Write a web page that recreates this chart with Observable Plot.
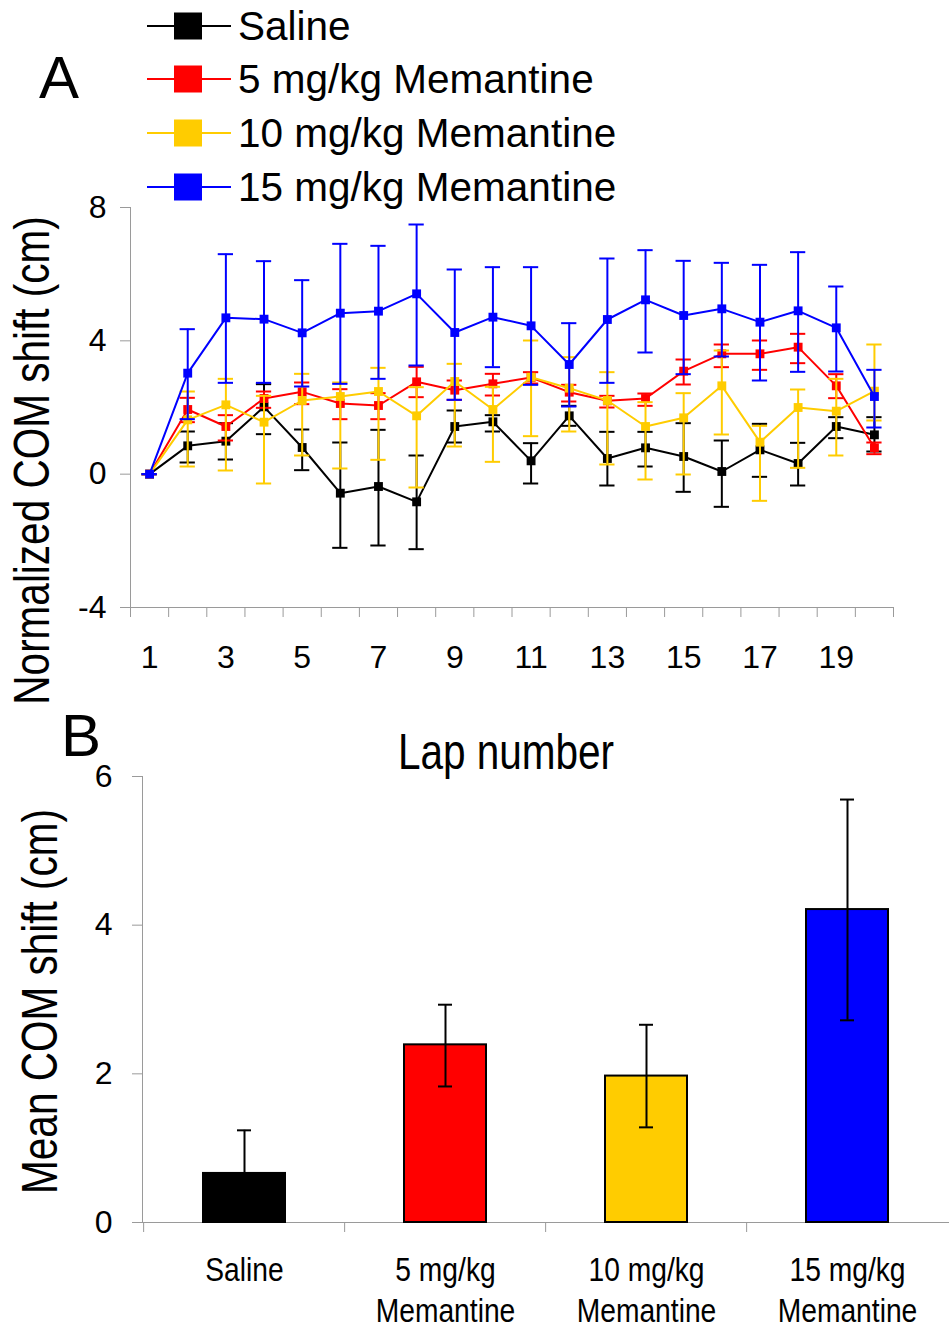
<!DOCTYPE html>
<html>
<head>
<meta charset="utf-8">
<script src="https://cdn.jsdelivr.net/npm/d3@7"></script>
<script src="https://cdn.jsdelivr.net/npm/@observablehq/plot@0.6"></script>
<style>
  body { margin: 0; background: #fff; }
  #wrap { position: relative; width: 949px; height: 1328px; overflow: hidden; background: #fff;
          font-family: "Liberation Sans", Arial, sans-serif; color: #000; }
  .panel { position: absolute; font-size: 60px; line-height: 45px; height: 45px; }
  .legrow { position: absolute; left: 147px; height: 54px; display: flex; align-items: center; }
  .legrow span { font-size: 40.5px; margin-left: 7px; line-height: 1; white-space: nowrap; }
</style>
</head>
<body>
<div id="wrap"></div>
<script>
// ---------- data ----------
const laps = [1, 2, 3, 4, 5, 6, 7, 8, 9, 10, 11, 12, 13, 14, 15, 16, 17, 18, 19, 20];
const lapTickLabels = [1, 3, 5, 7, 9, 11, 13, 15, 17, 19];
const yTicksA = [-4, 0, 4, 8];
const yTicksB = [0, 2, 4, 6];

const seriesNames = ["Saline", "5 mg/kg Memantine", "10 mg/kg Memantine", "15 mg/kg Memantine"];
const seriesColors = ["#000000", "#ff0000", "#ffcc00", "#0000ff"];

const salineMean = [0, 0.85, 0.99, 2.02, 0.80, -0.57, -0.37, -0.83, 1.43, 1.57, 0.40, 1.75, 0.47, 0.79, 0.53, 0.08, 0.73, 0.32, 1.43, 1.18];
const salineHi   = [0, 1.28, 1.53, 2.70, 1.34, 0.95, 1.33, 0.56, 1.91, 1.77, 0.93, 2.05, 1.27, 1.27, 1.53, 1.01, 1.51, 0.94, 1.71, 1.71];
const salineLo   = [0, 0.35, 0.44, 1.20, 0.12, -2.21, -2.14, -2.25, 0.95, 1.28, -0.28, 1.45, -0.34, 0.23, -0.53, -0.98, -0.08, -0.34, 1.08, 0.68];

const mem5Mean = [0, 1.94, 1.43, 2.27, 2.47, 2.12, 2.06, 2.77, 2.52, 2.71, 2.90, 2.46, 2.20, 2.27, 3.09, 3.61, 3.61, 3.81, 2.65, 0.79];
const mem5Hi   = [0, 2.29, 1.77, 2.48, 2.75, 2.55, 2.43, 3.22, 2.81, 3.01, 3.06, 2.68, 2.35, 2.42, 3.44, 3.89, 4.01, 4.21, 3.00, 0.95];
const mem5Lo   = [0, 1.56, 1.01, 1.99, 2.10, 1.65, 1.65, 2.31, 2.23, 2.36, 2.72, 2.18, 2.00, 2.05, 2.69, 3.21, 3.13, 3.33, 2.28, 0.60];

const mem10Mean = [0, 1.63, 2.08, 1.56, 2.21, 2.33, 2.48, 1.75, 2.78, 1.94, 2.91, 2.58, 2.21, 1.43, 1.69, 2.65, 0.96, 2.00, 1.89, 2.49];
const mem10Hi   = [0, 2.48, 2.86, 2.35, 3.01, 2.75, 3.19, 2.61, 3.31, 2.62, 4.01, 3.51, 3.06, 2.16, 2.43, 3.71, 1.45, 2.54, 2.86, 3.89];
const mem10Lo   = [0, 0.23, 0.11, -0.28, 0.56, 0.17, 0.43, -0.40, 0.83, 0.37, 1.14, 1.28, 0.29, -0.16, -0.01, 1.19, -0.80, 0.19, 0.56, 1.61];

const mem15Mean = [0, 3.03, 4.69, 4.65, 4.24, 4.83, 4.89, 5.41, 4.25, 4.71, 4.45, 3.29, 4.64, 5.23, 4.76, 4.96, 4.56, 4.90, 4.39, 2.33];
const mem15Hi   = [0, 4.35, 6.60, 6.39, 5.82, 6.91, 6.85, 7.49, 6.14, 6.21, 6.21, 4.53, 6.47, 6.72, 6.40, 6.34, 6.28, 6.66, 5.63, 3.13];
const mem15Lo   = [0, 1.65, 2.74, 2.74, 2.63, 2.71, 2.86, 3.26, 2.23, 3.21, 2.68, 2.03, 2.74, 3.65, 3.00, 3.53, 2.81, 3.07, 3.08, 1.40];

const groupsB = ["Saline", "5 mg/kg\nMemantine", "10 mg/kg\nMemantine", "15 mg/kg\nMemantine"];
const barMeans = [0.66, 2.39, 1.97, 4.21];
const barHi    = [1.24, 2.93, 2.66, 5.69];
const barLo    = [0.08, 1.83, 1.28, 2.72];

const yLabelA = "Normalized COM shift (cm)";
const xLabelA = "Lap number";
const yLabelB = "Mean COM shift (cm)";

// ---------- build ----------
const REG = "'Liberation Sans', Arial, sans-serif";
const wrap = document.getElementById("wrap");

// narrow (condensed) look of some labels, done with textLength on the real text
function condense(svg, strings, factor) {
  svg.querySelectorAll("text").forEach(t => {
    const tspans = t.querySelectorAll("tspan");
    const parts = tspans.length ? Array.from(tspans) : [t];
    parts.forEach(p => {
      if (strings.includes(p.textContent)) {
        const w = p.getComputedTextLength();
        p.setAttribute("textLength", (w * factor).toFixed(1));
        p.setAttribute("lengthAdjust", "spacingAndGlyphs");
      }
    });
  });
}

const meansAll = [salineMean, mem5Mean, mem10Mean, mem15Mean];
const hisAll = [salineHi, mem5Hi, mem10Hi, mem15Hi];
const losAll = [salineLo, mem5Lo, mem10Lo, mem15Lo];

const rowsA = [];
seriesNames.forEach((s, si) => laps.forEach((lap, i) =>
  rowsA.push({series: s, lap, mean: meansAll[si][i], hi: hisAll[si][i], lo: losAll[si][i]})));

const lapBounds = laps.map(l => l - 0.5).concat([laps[laps.length - 1] + 0.5]);
const capHalf = 0.2;

const seriesMarks = [];
seriesNames.forEach((name, si) => {
  const rows = rowsA.filter(d => d.series === name);
  const c = seriesColors[si];
  seriesMarks.push(
    Plot.ruleX(rows, {x: "lap", y1: "lo", y2: "hi", stroke: c, strokeWidth: 2}),
    Plot.ruleY(rows, {y: "hi", x1: d => d.lap - capHalf, x2: d => d.lap + capHalf, stroke: c, strokeWidth: 2}),
    Plot.ruleY(rows, {y: "lo", x1: d => d.lap - capHalf, x2: d => d.lap + capHalf, stroke: c, strokeWidth: 2}),
    Plot.line(rows, {x: "lap", y: "mean", stroke: c, strokeWidth: 2}),
    Plot.dot(rows, {x: "lap", y: "mean", symbol: "square", r: 5, fill: c, stroke: "none"})
  );
});

const plotA = Plot.plot({
  width: 949, height: 590,
  marginLeft: 130, marginRight: 56, marginTop: 27, marginBottom: 163,
  style: {fontFamily: REG, background: "transparent", overflow: "visible", color: "black"},
  x: {domain: [0.5, 20.5], axis: null},
  y: {domain: [-4, 8], axis: null},
  marks: [
    Plot.frame({anchor: "left", stroke: "#9a9a9a"}),
    Plot.frame({anchor: "bottom", stroke: "#9a9a9a"}),
    Plot.axisY({ticks: yTicksA, tickSize: 10, tickPadding: 14, fontSize: 32, tickFormat: d => String(d), stroke: "#9a9a9a", fill: "black", label: null}),
    Plot.axisX({ticks: lapBounds, tickSize: 10, tickFormat: () => "", stroke: "#9a9a9a", label: null}),
    Plot.axisX({ticks: lapTickLabels, tickSize: 0, tickPadding: 38, fontSize: 32, tickFormat: d => String(d), fill: "black", label: null}),
    ...seriesMarks,
    Plot.text([yLabelA], {frameAnchor: "left", textAnchor: "middle", lineAnchor: "middle", rotate: -90, dx: -98, dy: 53, fontSize: 50, fill: "black"}),
    Plot.text([xLabelA], {frameAnchor: "bottom", textAnchor: "middle", lineAnchor: "middle", dx: -6, dy: 145, fontSize: 50, fill: "black"})
  ]
});
plotA.style.position = "absolute";
plotA.style.left = "0px";
plotA.style.top = "180px";
wrap.appendChild(plotA);
condense(plotA, [yLabelA, xLabelA], 0.81);

const barRows = groupsB.map((g, i) => ({group: g, mean: barMeans[i], hi: barHi[i], lo: barLo[i]}));
const stepB = (949 - 142) / groupsB.length;

const plotB = Plot.plot({
  width: 949, height: 558,
  marginLeft: 142, marginRight: 0, marginTop: 6, marginBottom: 106,
  style: {fontFamily: REG, background: "transparent", overflow: "visible", color: "black"},
  x: {domain: groupsB, paddingInner: 0.594, paddingOuter: 0.297, axis: null},
  y: {domain: [0, 6], axis: null},
  color: {domain: groupsB, range: seriesColors},
  marks: [
    Plot.frame({anchor: "left", stroke: "#9a9a9a"}),
    Plot.ruleY([0], {stroke: "#9a9a9a"}),
    Plot.axisY({ticks: yTicksB, tickSize: 10, tickPadding: 20, fontSize: 32, tickFormat: d => String(d), stroke: "#9a9a9a", fill: "black", label: null}),
    Plot.axisX({tickSize: 10, dx: -stepB / 2, tickFormat: () => "", stroke: "#9a9a9a", label: null}),
    Plot.axisX({tickSize: 0, tickPadding: 29, fontSize: 34, lineHeight: 1.22, fill: "black", label: null}),
    Plot.barY(barRows, {x: "group", y: "mean", fill: "group", stroke: "black", strokeWidth: 2}),
    Plot.ruleX(barRows, {x: "group", y1: "lo", y2: "hi", stroke: "black", strokeWidth: 2}),
    Plot.tickY(barRows, {x: "group", y: "hi", stroke: "black", strokeWidth: 2, insetLeft: 34, insetRight: 34}),
    Plot.tickY(barRows, {x: "group", y: "lo", stroke: "black", strokeWidth: 2, insetLeft: 34, insetRight: 34}),
    Plot.text([yLabelB], {frameAnchor: "left", textAnchor: "middle", lineAnchor: "middle", rotate: -90, dx: -102, dy: 2, fontSize: 50, fill: "black"})
  ]
});
plotB.style.position = "absolute";
plotB.style.left = "0px";
plotB.style.top = "770px";
wrap.appendChild(plotB);
const catParts = [];
groupsB.forEach(g => g.split("\n").forEach(p => catParts.push(p)));
condense(plotB, [yLabelB], 0.81);
condense(plotB, catParts, 0.83);

// panel letters
const letterA = document.createElement("div");
letterA.className = "panel";
letterA.textContent = "A";
letterA.style.left = "39px"; letterA.style.top = "55px";
wrap.appendChild(letterA);
const letterB = document.createElement("div");
letterB.className = "panel";
letterB.textContent = "B";
letterB.style.left = "61px"; letterB.style.top = "713px";
wrap.appendChild(letterB);

// legend
const legendCenters = [26, 79, 133, 187];
seriesNames.forEach((name, i) => {
  const row = document.createElement("div");
  row.className = "legrow";
  row.style.top = (legendCenters[i] - 27) + "px";
  const ns = "http://www.w3.org/2000/svg";
  const svg = document.createElementNS(ns, "svg");
  svg.setAttribute("width", 84); svg.setAttribute("height", 54);
  const ln = document.createElementNS(ns, "line");
  ln.setAttribute("x1", 0); ln.setAttribute("x2", 84); ln.setAttribute("y1", 27); ln.setAttribute("y2", 27);
  ln.setAttribute("stroke", seriesColors[i]); ln.setAttribute("stroke-width", 2);
  const rc = document.createElementNS(ns, "rect");
  rc.setAttribute("x", 27); rc.setAttribute("y", 13.5); rc.setAttribute("width", 28); rc.setAttribute("height", 27);
  rc.setAttribute("fill", seriesColors[i]);
  svg.appendChild(ln); svg.appendChild(rc);
  const sp = document.createElement("span");
  sp.textContent = name;
  row.appendChild(svg); row.appendChild(sp);
  wrap.appendChild(row);
});
</script>
</body>
</html>
